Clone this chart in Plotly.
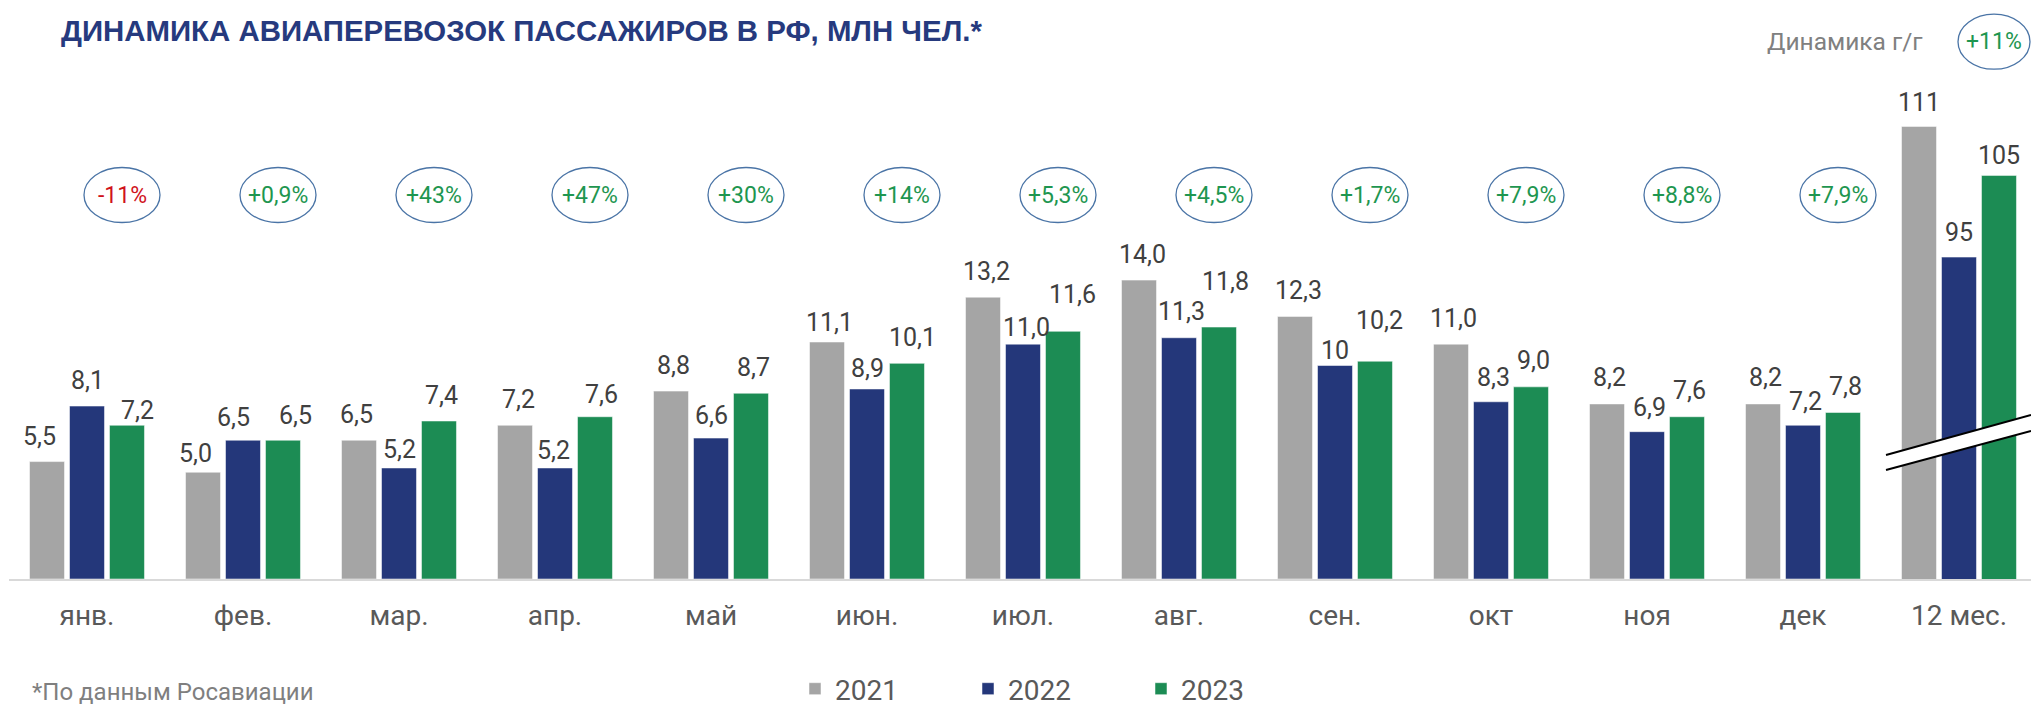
import plotly.graph_objects as go

# ---------------- data ----------------
months = ["янв.", "фев.", "мар.", "апр.", "май", "июн.", "июл.", "авг.", "сен.", "окт", "ноя", "дек"]
total_label = "12 мес."

y2021 = [5.5, 5.0, 6.5, 7.2, 8.8, 11.1, 13.2, 14.0, 12.3, 11.0, 8.2, 8.2]
y2022 = [8.1, 6.5, 5.2, 5.2, 6.6, 8.9, 11.0, 11.3, 10.0, 8.3, 6.9, 7.2]
y2023 = [7.2, 6.5, 7.4, 7.6, 8.7, 10.1, 11.6, 11.8, 10.2, 9.0, 7.6, 7.8]

total_2021 = 111
total_2022 = 95
total_2023 = 105

yoy_labels = ["-11%", "+0,9%", "+43%", "+47%", "+30%", "+14%", "+5,3%", "+4,5%", "+1,7%", "+7,9%", "+8,8%", "+7,9%"]
yoy_total = "+11%"

series_names = ["2021", "2022", "2023"]
colors = ["#A5A5A5", "#24377A", "#1C8C54"]

title_text = "ДИНАМИКА АВИАПЕРЕВОЗОК ПАССАЖИРОВ В РФ, МЛН ЧЕЛ.*"
footnote = "*По данным Росавиации"
yoy_caption = "Динамика г/г"

# label placement tweaks (pixels): vertical gap above bar top, horizontal nudge
label_gap = [
    [25, 19, 26, 26, 26, 20, 26, 26, 26, 26, 26, 26],
    [26, 23, 18, 17, 23, 20, 17, 26, 15, 24, 24, 24],
    [15, 25, 26, 22, 26, 26, 37, 46, 41, 26, 26, 26],
]
label_dx = [
    [-8, -8, -3, 3, 2, 2, 3, 3, 3, 2, 2, 2],
    [0, -10, 0, -2, 0, 0, 3, 2, 0, 2, 2, 2],
    [10, 12, 2, 6, 2, 5, 9, 6, 4, 2, 2, 2],
]
total_gap = [24, 25, 20]


def fmt(v, decimals=1):
    if decimals == 0:
        return f"{v:.0f}"
    return f"{v:.1f}".replace(".", ",")


def month_text(vals, integer_idx=()):
    return [fmt(v, 0 if i in integer_idx else 1) for i, v in enumerate(vals)]


texts = [month_text(y2021), month_text(y2022, integer_idx=(8,)), month_text(y2023)]
monthly = [y2021, y2022, y2023]
totals = [total_2021, total_2022, total_2023]

# ---------------- layout geometry (pixels) ----------------
W, H = 2031, 707
ML, MR, MT, MB = 9, 0, 60, 128
plot_w = W - ML - MR
plot_h = H - MT - MB
baseline_px = H - MB
px_per_unit = 21.35          # monthly scale
px_per_unit_total = 8.17     # broken scale for 12 мес.
total_base = 55.6
cat_px = 156.0
slot_px = 40.0

y_range = [0, plot_h / px_per_unit]
y2_range = [total_base, total_base + plot_h / px_per_unit_total]
x_range = [-0.5, -0.5 + plot_w / cat_px]


def px_to_paper_x(px):
    return (px - ML) / plot_w


def px_to_paper_y(py):
    return (baseline_px - py) / plot_h


fig = go.Figure()

label_font = dict(family="Roboto, sans-serif", size=25, color="#404040")
bar_line = dict(color="rgba(255,255,255,0.5)", width=1)

for name, col, vals in zip(series_names, colors, monthly):
    fig.add_trace(go.Bar(
        x=months, y=vals, name=name, marker=dict(color=col, line=bar_line),
        legendgroup=name, showlegend=True, yaxis="y", hoverinfo="x+y",
    ))

for name, col, v in zip(series_names, colors, totals):
    fig.add_trace(go.Bar(
        x=[total_label], y=[v], name=name, marker=dict(color=col, line=bar_line),
        legendgroup=name, showlegend=False, yaxis="y2", hoverinfo="x+y",
    ))

categories = months + [total_label]

shapes = []
annotations = []

# value labels above bars
for k, (vals, txt) in enumerate(zip(monthly, texts)):
    for i, (v, t) in enumerate(zip(vals, txt)):
        annotations.append(dict(x=i + (k - 1) * slot_px / cat_px, y=v, xref="x", yref="y",
                                text=t, showarrow=False, font=label_font,
                                xanchor="center", yanchor="middle",
                                xshift=label_dx[k][i], yshift=label_gap[k][i]))
for k, v in enumerate(totals):
    annotations.append(dict(x=12 + (k - 1) * slot_px / cat_px, y=v, xref="x", yref="y2",
                            text=fmt(v, 0), showarrow=False, font=label_font,
                            xanchor="center", yanchor="middle", yshift=total_gap[k]))

# YoY ellipses
ell_dx = 35 / cat_px
ell_hw = 38 / cat_px
ell_cy = px_to_paper_y(195)
ell_hh = 27.5 / plot_h
for i, lab in enumerate(yoy_labels):
    cx = i + ell_dx
    shapes.append(dict(type="circle", xref="x", yref="paper", x0=cx - ell_hw, x1=cx + ell_hw,
                       y0=ell_cy - ell_hh, y1=ell_cy + ell_hh,
                       line=dict(color="#4A74A6", width=1.3), fillcolor="rgba(0,0,0,0)"))
    annotations.append(dict(x=cx, y=ell_cy, xref="x", yref="paper", text=lab, showarrow=False,
                            font=dict(family="Roboto, sans-serif", size=23,
                                      color="#D0121B" if lab.startswith("-") else "#1E9650"),
                            xanchor="center", yanchor="middle"))

# total YoY ellipse (top right)
cx = 12 + ell_dx
top_cy = px_to_paper_y(41.7)
shapes.append(dict(type="circle", xref="x", yref="paper", x0=cx - 36 / cat_px, x1=cx + 36 / cat_px,
                   y0=top_cy - ell_hh, y1=top_cy + ell_hh,
                   line=dict(color="#4A74A6", width=1.3), fillcolor="rgba(0,0,0,0)"))
annotations.append(dict(x=cx, y=top_cy, xref="x", yref="paper", text=yoy_total, showarrow=False,
                        font=dict(family="Roboto, sans-serif", size=23, color="#1E9650"),
                        xanchor="center", yanchor="middle"))
annotations.append(dict(x=px_to_paper_x(1845), y=top_cy, xref="paper", yref="paper", text=yoy_caption,
                        showarrow=False, font=dict(family="Roboto, sans-serif", size=24.5, color="#808080"),
                        xanchor="center", yanchor="middle"))

# footnote
annotations.append(dict(x=px_to_paper_x(30), y=px_to_paper_y(692), xref="paper", yref="paper",
                        text=footnote, showarrow=False,
                        font=dict(family="Roboto, sans-serif", size=24, color="#7F7F7F"),
                        xanchor="left", yanchor="middle"))

# axis break marker on the 12 мес. bars
p1 = (px_to_paper_x(1886), px_to_paper_y(455))
p2 = (px_to_paper_x(2031), px_to_paper_y(415))
p3 = (px_to_paper_x(2031), px_to_paper_y(431))
p4 = (px_to_paper_x(1886), px_to_paper_y(470))
shapes.append(dict(type="path", xref="paper", yref="paper",
                   path=f"M{p1[0]},{p1[1]} L{p2[0]},{p2[1]} L{p3[0]},{p3[1]} L{p4[0]},{p4[1]} Z",
                   fillcolor="white", line=dict(width=0)))
shapes.append(dict(type="line", xref="paper", yref="paper", x0=p1[0], y0=p1[1], x1=p2[0], y1=p2[1],
                   line=dict(color="black", width=2)))
shapes.append(dict(type="line", xref="paper", yref="paper", x0=p4[0], y0=p4[1], x1=p3[0], y1=p3[1],
                   line=dict(color="black", width=2)))

fig.update_layout(
    width=W, height=H,
    margin=dict(l=ML, r=MR, t=MT, b=MB, pad=0, autoexpand=False),
    paper_bgcolor="white", plot_bgcolor="white",
    barmode="group", bargap=0.231, bargroupgap=0.125,
    title=dict(text=f"<b>{title_text}</b>", x=61 / W, xanchor="left", xref="container",
               y=1 - 31 / H, yanchor="middle", yref="container",
               font=dict(family="Liberation Sans, Arial, sans-serif", size=29.4, color="#263A7E")),
    xaxis=dict(categoryorder="array", categoryarray=categories, range=x_range,
               showline=True, linecolor="#D9D9D9", linewidth=2,
               ticks="outside", ticklen=10, tickcolor="rgba(0,0,0,0)",
               tickfont=dict(family="Roboto, sans-serif", size=28, color="#595959"),
               showgrid=False, zeroline=False, fixedrange=True),
    yaxis=dict(range=y_range, visible=False, showgrid=False, zeroline=False),
    yaxis2=dict(range=y2_range, visible=False, overlaying="y", showgrid=False, zeroline=False),
    legend=dict(orientation="h", x=px_to_paper_x(795), y=px_to_paper_y(689), xanchor="left", yanchor="middle",
                font=dict(family="Roboto, sans-serif", size=28, color="#595959"),
                entrywidth=128, entrywidthmode="pixels", itemclick=False, bgcolor="rgba(0,0,0,0)"),
    shapes=shapes,
    annotations=annotations,
    showlegend=True,
)

fig.write_html("out.html", config={"displayModeBar": False},
               post_script="document.body.style.margin='0';document.body.style.overflow='hidden';")
